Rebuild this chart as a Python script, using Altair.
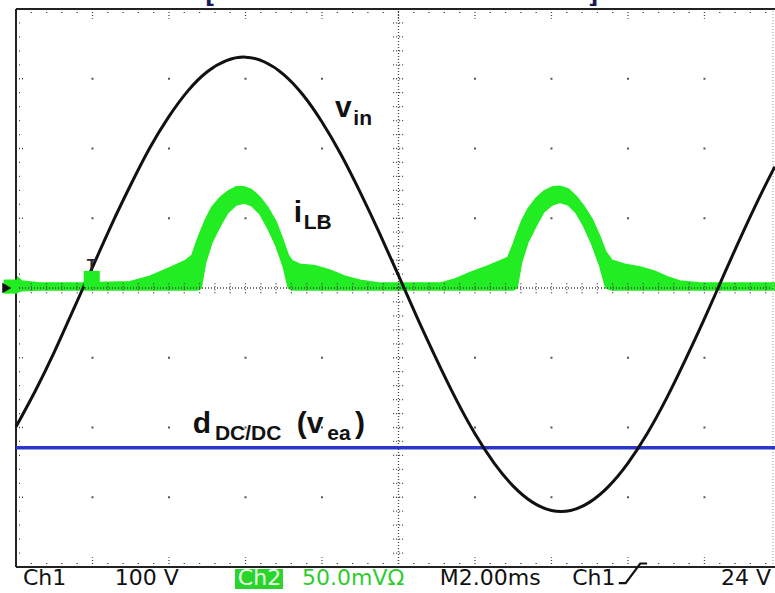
import altair as alt
import pandas as pd
import numpy as np

# ---------------- data (oscilloscope divisions) ----------------
X_MAX = 9.922          # visible part of the 10-division screen
# Ch1: v_in (black)
vin_t = [0, 0.25, 0.5, 0.75, 1.0, 1.25, 1.5, 1.75, 2.0, 2.25, 2.5, 2.75, 3.0, 3.25,
         3.5, 3.75, 4.0, 4.25, 4.5, 4.75, 5.0, 5.25, 5.5, 5.75, 6.0, 6.25, 6.5, 6.75,
         7.0, 7.25, 7.5, 7.75, 8.0, 8.25, 8.5, 8.75, 9.0, 9.25, 9.5, 9.75, 9.92]
vin_v = [-1.99, -1.48, -0.92, -0.31, 0.30, 0.91, 1.48, 2.01, 2.46, 2.83, 3.10, 3.26,
         3.31, 3.24, 3.06, 2.77, 2.38, 1.91, 1.37, 0.79, 0.18, -0.44, -1.03, -1.59,
         -2.09, -2.51, -2.84, -3.07, -3.19, -3.19, -3.07, -2.84, -2.51, -2.09, -1.59,
         -1.03, -0.44, 0.18, 0.79, 1.37, 1.74]

# Ch2: i_LB (green band, upper / lower envelope)
ilb_t = [0, 0.08, 0.31, 0.84, 1.49, 1.75, 2.01, 2.21, 2.30, 2.37,
         2.42, 2.48, 2.56, 2.67, 2.77, 2.88, 2.98, 3.08, 3.19, 3.29,
         3.40, 3.49, 3.56, 3.61, 3.71, 3.91, 4.10, 4.30, 4.50, 4.76,
         5.54, 5.74, 5.93, 6.13, 6.33, 6.43, 6.50, 6.55, 6.61, 6.69,
         6.80, 6.90, 7.01, 7.11, 7.22, 7.32, 7.42, 7.53, 7.63, 7.71,
         7.79, 7.96, 8.16, 8.35, 8.52, 8.68, 8.94, 9.92]
ilb_hi = [0.17, 0.10, 0.07, 0.07, 0.09, 0.17, 0.29, 0.39, 0.47, 0.69,
          0.83, 0.99, 1.16, 1.30, 1.39, 1.45, 1.45, 1.41, 1.30, 1.16,
          0.95, 0.69, 0.47, 0.39, 0.34, 0.32, 0.26, 0.17, 0.11, 0.07,
          0.07, 0.13, 0.22, 0.30, 0.39, 0.44, 0.63, 0.79, 0.96, 1.13,
          1.29, 1.39, 1.45, 1.46, 1.42, 1.32, 1.18, 0.99, 0.75, 0.52,
          0.40, 0.34, 0.30, 0.24, 0.16, 0.10, 0.07, 0.07]
ilb_lo = [-0.06, -0.04, -0.03, -0.03, -0.03, -0.03, -0.03, -0.03, -0.03, -0.03,
          0.00, 0.37, 0.65, 0.89, 1.08, 1.19, 1.22, 1.18, 1.06, 0.86,
          0.60, 0.32, 0.00, -0.03, -0.03, -0.03, -0.03, -0.03, -0.03, -0.03,
          -0.03, -0.03, -0.03, -0.03, -0.03, -0.03, -0.03, 0.00, 0.37, 0.65,
          0.89, 1.09, 1.19, 1.23, 1.19, 1.08, 0.89, 0.62, 0.32, 0.00,
          -0.03, -0.03, -0.03, -0.03, -0.03, -0.03, -0.03, -0.03]

# d_DC/DC (v_ea) trace (blue)
dc_t = [0, X_MAX]
dc_v = [-2.29, -2.29]

# annotation labels
big_txt = ["v", "i", "d", "(v", ")"]
big_x = [4.17, 3.63, 2.31, 3.67, 4.43]
big_y = [2.45, 0.95, -2.08, -2.08, -2.08]
sub_txt = ["in", "LB", "DC/DC", "ea"]
sub_x = [4.41, 3.76, 2.60, 4.07]
sub_y = [2.34, 0.85, -2.18, -2.18]

# status line at the bottom
status_txt = ["Ch1", "100 V", "M2.00ms", "Ch1"]
status_x = [0.09, 1.29, 5.54, 7.27]
STATUS_Y = -4.258
scale_txt = "50.0mV\u03a9"
scale_x = 3.74
ch2_txt = "Ch2"
ch2_x = 2.90
ch2_box = [2.863, 3.49, -4.03, -4.315]
trig_txt = "24 V"
trig_x = 9.87
edge_x = [7.88, 7.97, 8.16, 8.25]
edge_y = [-4.23, -4.23, -3.95, -3.95]

GREEN = "#22ec22"
BLACK = "#111111"
BLUE = "#2c37c8"
GRID = "#444444"

xs = alt.Scale(domain=[0, X_MAX], nice=False, zero=False)
ys = alt.Scale(domain=[-4, 4], nice=False, zero=False)


def X(f="x"):
    return alt.X(f"{f}:Q", scale=xs, axis=None)


def Y(f="y"):
    return alt.Y(f"{f}:Q", scale=ys, axis=None)


# ---------------- traces ----------------
ilb_df = pd.DataFrame({"x": ilb_t, "lo": ilb_lo, "hi": ilb_hi})
green = alt.Chart(ilb_df).mark_area(color=GREEN, opacity=1, stroke=GREEN,
                                     strokeWidth=1.5).encode(
    x=X(), y=Y("lo"), y2="hi:Q")

vin_df = pd.DataFrame({"x": vin_t, "y": vin_v})
black = alt.Chart(vin_df).mark_line(color=BLACK, strokeWidth=3,
                                     interpolate="natural").encode(x=X(), y=Y())

dc_df = pd.DataFrame({"x": dc_t, "y": dc_v})
blue = alt.Chart(dc_df).mark_line(color=BLUE, strokeWidth=3.5).encode(x=X(), y=Y())

# ---------------- graticule ----------------
minor_x = np.round(np.arange(0.2, X_MAX, 0.2), 2)
minor_y = np.round(np.arange(-3.8, 4.0, 0.2), 2)

rules = []
# centre crosshair
rules.append(pd.DataFrame({"x": [5.0], "x2": [5.0], "y": [-4.0], "y2": [4.0]}))
rules.append(pd.DataFrame({"x": [0.0], "x2": [X_MAX], "y": [0.0], "y2": [0.0]}))
# cross ticks on centre lines
rules.append(pd.DataFrame({"x": 4.93, "x2": 5.07, "y": minor_y, "y2": minor_y}))
rules.append(pd.DataFrame({"x": minor_x, "x2": minor_x, "y": -0.075, "y2": 0.075}))
# border ticks
is_major_x = np.isclose(minor_x % 1, 0) | np.isclose(minor_x % 1, 1)
is_major_y = np.isclose(minor_y % 1, 0) | np.isclose(minor_y % 1, 1)
rules.append(pd.DataFrame({"x": minor_x, "x2": minor_x, "y": 4.0,
                           "y2": np.where(is_major_x, 3.86, 3.92)}))
rules.append(pd.DataFrame({"x": minor_x, "x2": minor_x, "y": -4.0,
                           "y2": np.where(is_major_x, -3.86, -3.92)}))
rules.append(pd.DataFrame({"x": 0.0, "x2": np.where(is_major_y, 0.11, 0.06),
                           "y": minor_y, "y2": minor_y}))
grat_df = pd.concat(rules, ignore_index=True)
graticule = alt.Chart(grat_df).mark_rule(color=GRID, strokeWidth=1.3,
                                          strokeDash=[1, 2]).encode(
    x=X(), x2="x2:Q", y=Y(), y2="y2:Q")

right_df = pd.DataFrame({"x": [9.895], "x2": [9.895], "y": [-4.0], "y2": [4.0]})
right_edge = alt.Chart(right_df).mark_rule(color="#bbbbbb", strokeWidth=1.5,
                                            strokeDash=[1, 2]).encode(
    x=X(), x2="x2:Q", y=Y(), y2="y2:Q")

dots_df = pd.DataFrame([(gx, gy) for gx in [1, 2, 3, 4, 6, 7, 8, 9]
                        for gy in [-3, -2, -1, 1, 2, 3]], columns=["x", "y"])
dots = alt.Chart(dots_df).mark_square(color=GRID, size=4, opacity=0.9).encode(
    x=X(), y=Y())

border_df = pd.DataFrame({"x": [0.0, 0.0, 0.0], "x2": [X_MAX, 0.0, X_MAX],
                          "y": [4.0, -4.0, -4.0], "y2": [4.0, 4.0, -4.0]})
border = alt.Chart(border_df).mark_rule(color="#222222", strokeWidth=2).encode(
    x=X(), x2="x2:Q", y=Y(), y2="y2:Q")

# ---------------- markers ----------------
gnd_g = alt.Chart(pd.DataFrame({"x": [-0.07], "y": [0.02]})).mark_point(
    shape="square", filled=True, color=GREEN, size=200, opacity=1).encode(x=X(), y=Y())
gnd_b = alt.Chart(pd.DataFrame({"x": [-0.12], "y": [0.0]})).mark_point(
    shape="triangle-right", filled=True, color=BLACK, size=110, opacity=1).encode(x=X(), y=Y())
trig_g = alt.Chart(pd.DataFrame({"x": [0.99], "y": [0.13]})).mark_point(
    shape="square", filled=True, color=GREEN, size=260, opacity=1).encode(x=X(), y=Y())
trig_t = alt.Chart(pd.DataFrame({"x": [0.99], "y": [0.24], "t": ["T"]})).mark_text(
    font="Liberation Sans", fontWeight="bold", fontSize=16, color="#222233",
    align="center", baseline="alphabetic").encode(x=X(), y=Y(), text="t:N")
brackets = alt.Chart(pd.DataFrame({"x": [2.47, 7.48], "y": [4.0, 4.0],
                                   "t": ["[", "]"]})).mark_text(
    font="DejaVu Sans", fontWeight="bold", fontSize=22, color="#1a1a5a",
    baseline="bottom", dy=-1, align="left").encode(x=X(), y=Y(), text="t:N")

# ---------------- labels ----------------
big_df = pd.DataFrame({"x": big_x, "y": big_y, "t": big_txt})
big = alt.Chart(big_df).mark_text(font="Liberation Sans", fontWeight="bold",
                                  fontSize=30, color=BLACK, align="left",
                                  baseline="alphabetic").encode(
    x=X(), y=Y(), text="t:N")
sub_df = pd.DataFrame({"x": sub_x, "y": sub_y, "t": sub_txt})
sub = alt.Chart(sub_df).mark_text(font="Liberation Sans", fontWeight="bold",
                                  fontSize=21, color=BLACK, align="left",
                                  baseline="alphabetic").encode(
    x=X(), y=Y(), text="t:N")

# ---------------- status line ----------------
st_df = pd.DataFrame({"x": status_x, "y": STATUS_Y, "t": status_txt})
status = alt.Chart(st_df).mark_text(font="DejaVu Sans", fontSize=22, color=BLACK,
                                    align="left", baseline="alphabetic").encode(
    x=X(), y=Y(), text="t:N")
box_df = pd.DataFrame({"x": [ch2_box[0]], "x2": [ch2_box[1]],
                       "y": [ch2_box[2]], "y2": [ch2_box[3]]})
box = alt.Chart(box_df).mark_rect(color="#2bd42b").encode(
    x=X(), x2="x2:Q", y=Y(), y2="y2:Q")
ch2 = alt.Chart(pd.DataFrame({"x": [ch2_x], "y": [STATUS_Y], "t": [ch2_txt]})).mark_text(
    font="DejaVu Sans", fontSize=22, color="#e6ffe6", align="left",
    baseline="alphabetic").encode(x=X(), y=Y(), text="t:N")
scl = alt.Chart(pd.DataFrame({"x": [scale_x], "y": [STATUS_Y], "t": [scale_txt]})).mark_text(
    font="DejaVu Sans", fontSize=22, color="#2ecc2e", align="left",
    baseline="alphabetic").encode(x=X(), y=Y(), text="t:N")
trg = alt.Chart(pd.DataFrame({"x": [trig_x], "y": [STATUS_Y], "t": [trig_txt]})).mark_text(
    font="DejaVu Sans", fontSize=22, color=BLACK, align="right",
    baseline="alphabetic").encode(x=X(), y=Y(), text="t:N")
edge = alt.Chart(pd.DataFrame({"x": edge_x, "y": edge_y})).mark_line(
    color=BLACK, strokeWidth=2.2).encode(x=X(), y=Y())

chart = alt.layer(
    green, graticule, right_edge, dots, border, blue, black,
    gnd_g, gnd_b, trig_g, trig_t, brackets,
    big, sub, box, ch2, scl, status, trg, edge
).properties(
    width=759, height=558,
    padding={"left": 16, "top": 9, "right": 0, "bottom": 26},
    autosize=alt.AutoSizeParams(type="none"),
    background="white",
).configure_view(strokeWidth=0)

chart.save("out.html", embed_options={"renderer": "svg", "actions": False})
